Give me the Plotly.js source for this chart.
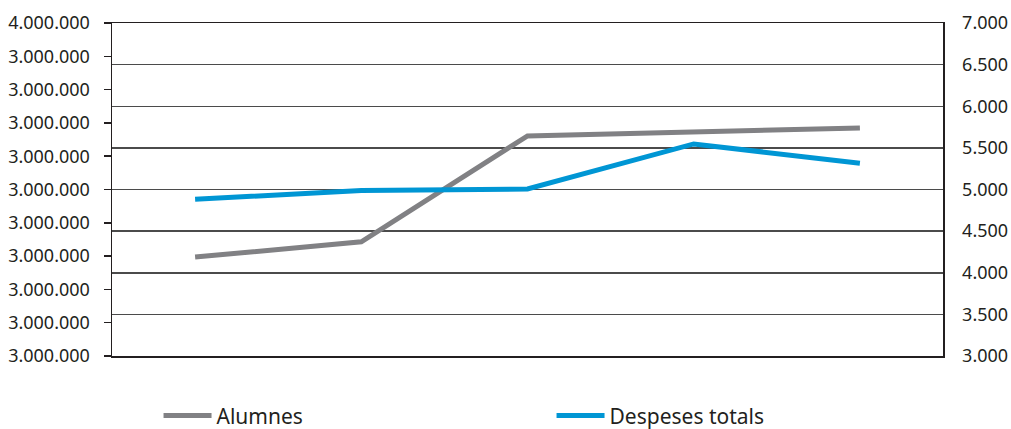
<!DOCTYPE html>
<html>
<head>
<meta charset="utf-8">
<script src="https://cdn.plot.ly/plotly-3.0.1.min.js"></script>
<style>
  html, body { margin: 0; padding: 0; background: #ffffff; }
  #chart { width: 1011px; height: 429px; }
</style>
</head>
<body>
<div id="chart"></div>
<script>
// Categories (no labels shown on the x axis in the reference)
const categories = ['1', '2', '3', '4', '5'];

// Series
const alumnesName = 'Alumnes';
const alumnes = [3297000, 3343000, 3661000, 3673000, 3685000];

const despesesName = 'Despeses totals';
const despeses = [4882, 4988, 5006, 5547, 5315];

// Left axis tick values and labels (as printed in the reference)
const leftTickVals = [3000000, 3100000, 3200000, 3300000, 3400000, 3500000,
                      3600000, 3700000, 3800000, 3900000, 4000000];
const leftTickText = ['3.000.000', '3.000.000', '3.000.000', '3.000.000', '3.000.000',
                      '3.000.000', '3.000.000', '3.000.000', '3.000.000', '3.000.000',
                      '4.000.000'];

// Right axis tick values and labels
const rightTickVals = [3000, 3500, 4000, 4500, 5000, 5500, 6000, 6500, 7000];
const rightTickText = ['3.000', '3.500', '4.000', '4.500', '5.000', '5.500', '6.000', '6.500', '7.000'];

const textColor = '#231f20';
const fontFam = 'Noto Sans, DejaVu Sans, sans-serif';

const traces = [
  {
    x: categories, y: alumnes, name: alumnesName, type: 'scatter', mode: 'lines',
    yaxis: 'y', line: { color: '#818184', width: 5 }, hoverinfo: 'skip'
  },
  {
    x: categories, y: despeses, name: despesesName, type: 'scatter', mode: 'lines',
    yaxis: 'y2', line: { color: '#0096d4', width: 5 }, hoverinfo: 'skip'
  }
];

const layout = {
  width: 1011, height: 429,
  margin: { l: 112, r: 68, t: 23, b: 73, autoexpand: false },
  paper_bgcolor: '#ffffff', plot_bgcolor: '#ffffff',
  font: { family: fontFam, size: 18, color: textColor },
  showlegend: true,
  legend: {
    orientation: 'h',
    x: 0.056, xanchor: 'left',
    y: -0.118, yanchor: 'top',
    font: { family: fontFam, size: 21, color: textColor },
    itemwidth: 48,
    entrywidth: 330, entrywidthmode: 'pixels',
    bgcolor: 'rgba(0,0,0,0)'
  },
  xaxis: {
    type: 'category',
    range: [-0.5, 4.5],
    showticklabels: false, ticks: '', showgrid: false, zeroline: false,
    showline: true, mirror: true, linecolor: '#231f20', linewidth: 1.5,
    fixedrange: true
  },
  yaxis: {
    range: [3000000, 4000000],
    tickmode: 'array', tickvals: leftTickVals, ticktext: leftTickText,
    ticks: 'outside', ticklen: 7, tickwidth: 1.5, tickcolor: '#231f20',
    ticklabelstandoff: 10,
    showgrid: false, zeroline: false,
    showline: true, linecolor: '#231f20', linewidth: 1.5,
    tickfont: { family: fontFam, size: 18, color: textColor },
    fixedrange: true
  },
  yaxis2: {
    overlaying: 'y', side: 'right',
    range: [3000, 7000],
    tickmode: 'array', tickvals: rightTickVals, ticktext: rightTickText,
    ticks: 'outside', ticklen: 14, tickcolor: 'rgba(0,0,0,0)',
    showgrid: true, gridcolor: '#4b4b4b', gridwidth: 1.5,
    zeroline: false,
    showline: true, linecolor: '#231f20', linewidth: 1.5,
    tickfont: { family: fontFam, size: 18, color: textColor },
    fixedrange: true
  }
};

Plotly.newPlot('chart', traces, layout, { staticPlot: true, displayModeBar: false });
</script>
</body>
</html>
